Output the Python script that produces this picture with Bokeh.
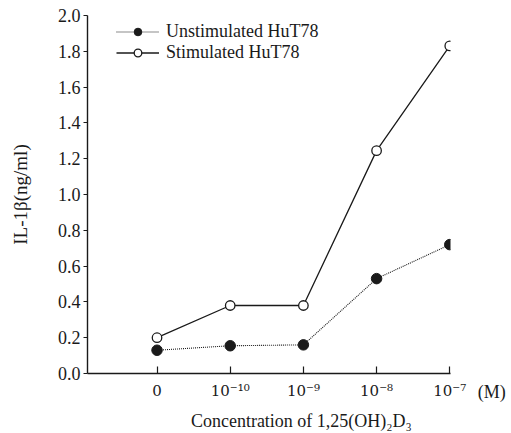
from bokeh.plotting import figure
from bokeh.models import Range1d, FixedTicker, Legend, LegendItem, Label
from bokeh.embed import file_html
from bokeh.resources import INLINE

# ---- data ----
categories = ["0", "10⁻¹⁰", "10⁻⁹", "10⁻⁸", "10⁻⁷"]
unstimulated = [0.13, 0.155, 0.16, 0.53, 0.72]
stimulated = [0.20, 0.38, 0.38, 1.245, 1.83]
y_ticks = [0.0, 0.2, 0.4, 0.6, 0.8, 1.0, 1.2, 1.4, 1.6, 1.8, 2.0]
y_tick_labels = ["0.0", "0.2", "0.4", "0.6", "0.8", "1.0", "1.2", "1.4", "1.6", "1.8", "2.0"]
series_names = ["Unstimulated HuT78", "Stimulated HuT78"]
x_title = "Concentration of 1,25(OH)₂D₃"
y_title = "IL-1β(ng/ml)"
unit_label = "(M)"

FONT = "Liberation Serif"
INK = "#1a1a1a"

x = list(range(len(categories)))

p = figure(width=511, height=433, output_backend="svg", toolbar_location=None,
           x_range=Range1d(-0.95, 4.01), y_range=Range1d(0, 2.0),
           min_border_left=87, min_border_right=61, min_border_top=15, min_border_bottom=60)
p.outline_line_color = None
p.xgrid.grid_line_color = None
p.ygrid.grid_line_color = None
p.background_fill_color = "white"
p.border_fill_color = "white"

# x axis
p.xaxis.ticker = FixedTicker(ticks=x)
p.xaxis.major_label_overrides = {i: c for i, c in zip(x, categories)}
p.xaxis.major_tick_in = 7
p.xaxis.major_tick_out = 0
p.xaxis.minor_tick_line_color = None
p.xaxis.major_label_standoff = 8

# y axis
p.yaxis.ticker = FixedTicker(ticks=y_ticks)
p.yaxis.major_label_overrides = {t: l for t, l in zip(y_ticks, y_tick_labels)}
p.yaxis.major_tick_in = 0
p.yaxis.major_tick_out = 4
p.yaxis.minor_tick_line_color = None
p.yaxis.major_label_standoff = 3
p.yaxis.axis_label = y_title
p.yaxis.axis_label_standoff = 24

for ax in (p.xaxis, p.yaxis):
    ax.axis_line_color = INK
    ax.axis_line_width = 1.4
    ax.major_tick_line_color = INK
    ax.major_tick_line_width = 1.2
    ax.major_label_text_font = FONT
    ax.major_label_text_font_size = "18px"
    ax.major_label_text_color = INK
    ax.axis_label_text_font = FONT
    ax.axis_label_text_font_size = "19px"
    ax.axis_label_text_font_style = "normal"
    ax.axis_label_text_color = INK
p.xaxis.major_label_text_font = "DejaVu Serif"
p.xaxis.major_label_text_font_size = "15px"

# series
l1 = p.line(x, unstimulated, line_color=INK, line_width=1.1, line_dash="1 1")
m1 = p.scatter(x, unstimulated, size=10.5, fill_color=INK, line_color=INK, line_width=1)
l2 = p.line(x, stimulated, line_color=INK, line_width=1.3)
m2 = p.scatter(x, stimulated, size=9.5, fill_color="white", line_color=INK, line_width=1.3)

legend = Legend(items=[LegendItem(label=series_names[0], renderers=[l1, m1]),
                       LegendItem(label=series_names[1], renderers=[l2, m2])],
                location=(29, 310), padding=0, margin=0, spacing=-14,
                glyph_width=43, glyph_height=19, label_height=19, label_standoff=7,
                label_text_font=FONT, label_text_font_size="18px", label_text_color=INK,
                background_fill_alpha=0, border_line_alpha=0)
p.add_layout(legend)

p.add_layout(Label(x=2, y=0, x_offset=-2, y_offset=-47, text=x_title,
                   text_align="center", text_baseline="middle",
                   text_font=FONT, text_font_size="18px", text_color=INK), "below")
p.add_layout(Label(x=4, y=0, x_offset=28, y_offset=-18, text=unit_label,
                   text_align="left", text_baseline="middle",
                   text_font=FONT, text_font_size="18px", text_color=INK), "right")

open("out.html", "w").write(file_html(p, INLINE))
